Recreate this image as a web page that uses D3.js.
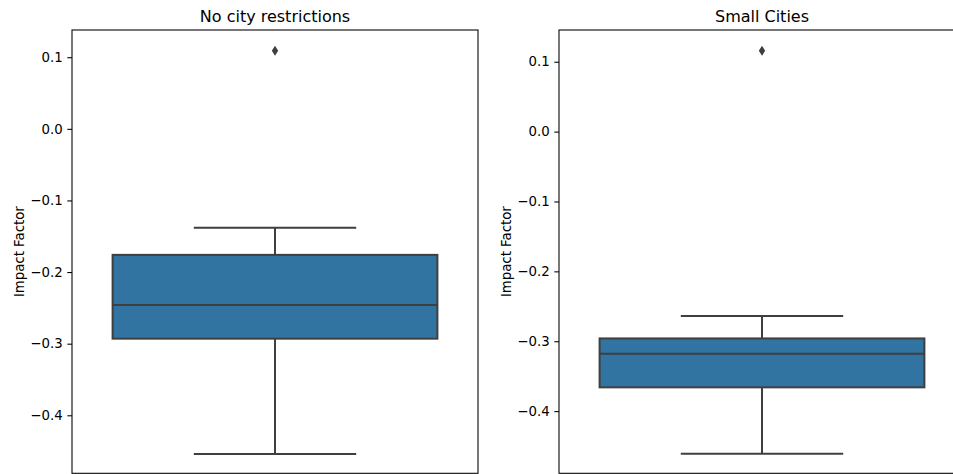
<!DOCTYPE html>
<html><head><meta charset="utf-8">
<script src="https://cdn.jsdelivr.net/npm/d3@7"></script>
<style>body{margin:0;background:#fff}svg{display:block}text{font-family:"DejaVu Sans",sans-serif;fill:#000}</style>
</head><body>
<svg id="c" width="953" height="474"></svg>
<script>
const titles = ["No city restrictions", "Small Cities"];
const whiskerLow = [-0.454, -0.461];
const q1 = [-0.293, -0.366];
const median = [-0.246, -0.318];
const q3 = [-0.176, -0.296];
const whiskerHigh = [-0.138, -0.264];
const outliers = [[0.109], [0.1157]];
const yDomains = [[-0.481, 0.138], [-0.489, 0.1454]];
const yTicks = [0.1, 0.0, -0.1, -0.2, -0.3, -0.4];
const yLabel = "Impact Factor";

const svg = d3.select("#c");
const panels = [{x0: 72, x1: 478}, {x0: 559, x1: 965}];
const plotTop = 30, plotBottom = 473.3;
const fill = "#3274a1", edge = "#3f3f3f", lw = 2;

panels.forEach((p, i) => {
  const y = d3.scaleLinear().domain(yDomains[i]).range([plotBottom, plotTop]);
  const x = d3.scaleBand().domain([titles[i]]).range([p.x0, p.x1]).paddingInner(0).paddingOuter(0);
  const g = svg.append("g");
  const cx = x(titles[i]) + x.bandwidth() / 2;
  const bw = x.bandwidth() * 0.8, cw = x.bandwidth() * 0.4;
  g.append("line").attr("x1", cx).attr("x2", cx).attr("y1", y(q3[i])).attr("y2", y(whiskerHigh[i])).attr("stroke", edge).attr("stroke-width", lw);
  g.append("line").attr("x1", cx).attr("x2", cx).attr("y1", y(q1[i])).attr("y2", y(whiskerLow[i])).attr("stroke", edge).attr("stroke-width", lw);
  [whiskerHigh[i], whiskerLow[i]].forEach(v => {
    g.append("line").attr("x1", cx - cw / 2).attr("x2", cx + cw / 2).attr("y1", y(v)).attr("y2", y(v)).attr("stroke", edge).attr("stroke-width", lw);
  });
  g.append("rect").attr("x", cx - bw / 2).attr("width", bw).attr("y", y(q3[i])).attr("height", y(q1[i]) - y(q3[i]))
    .attr("fill", fill).attr("stroke", edge).attr("stroke-width", lw);
  g.append("line").attr("x1", cx - bw / 2).attr("x2", cx + bw / 2).attr("y1", y(median[i])).attr("y2", y(median[i])).attr("stroke", edge).attr("stroke-width", lw);
  outliers[i].forEach(v => {
    const yy = y(v);
    g.append("path").attr("d", `M${cx},${yy - 5}L${cx + 3.2},${yy}L${cx},${yy + 5}L${cx - 3.2},${yy}Z`).attr("fill", edge);
  });
  const ax = svg.append("g").attr("transform", `translate(${p.x0},0)`)
    .call(d3.axisLeft(y).tickValues(yTicks).tickSize(4.7).tickPadding(4.7).tickFormat(d => d3.format(".1f")(d).replace("-", "\u2212")));
  ax.select(".domain").remove();
  ax.selectAll(".tick line").attr("stroke", "#000").attr("stroke-width", 1.07);
  ax.selectAll(".tick text").attr("font-size", 13.3).style("font-family", "DejaVu Sans").attr("fill", "#000");
  svg.append("rect").attr("x", p.x0).attr("y", plotTop).attr("width", p.x1 - p.x0).attr("height", plotBottom - plotTop)
    .attr("fill", "none").attr("stroke", "#000").attr("stroke-width", 1.07);
  svg.append("text").attr("x", (p.x0 + p.x1) / 2).attr("y", plotTop - 8.3).attr("text-anchor", "middle").attr("font-size", 16).text(titles[i]);
  svg.append("text").attr("transform", `translate(${p.x0 - 48},${(plotTop + plotBottom) / 2}) rotate(-90)`).attr("text-anchor", "middle").attr("font-size", 13.3).text(yLabel);
});
</script>
</body></html>
